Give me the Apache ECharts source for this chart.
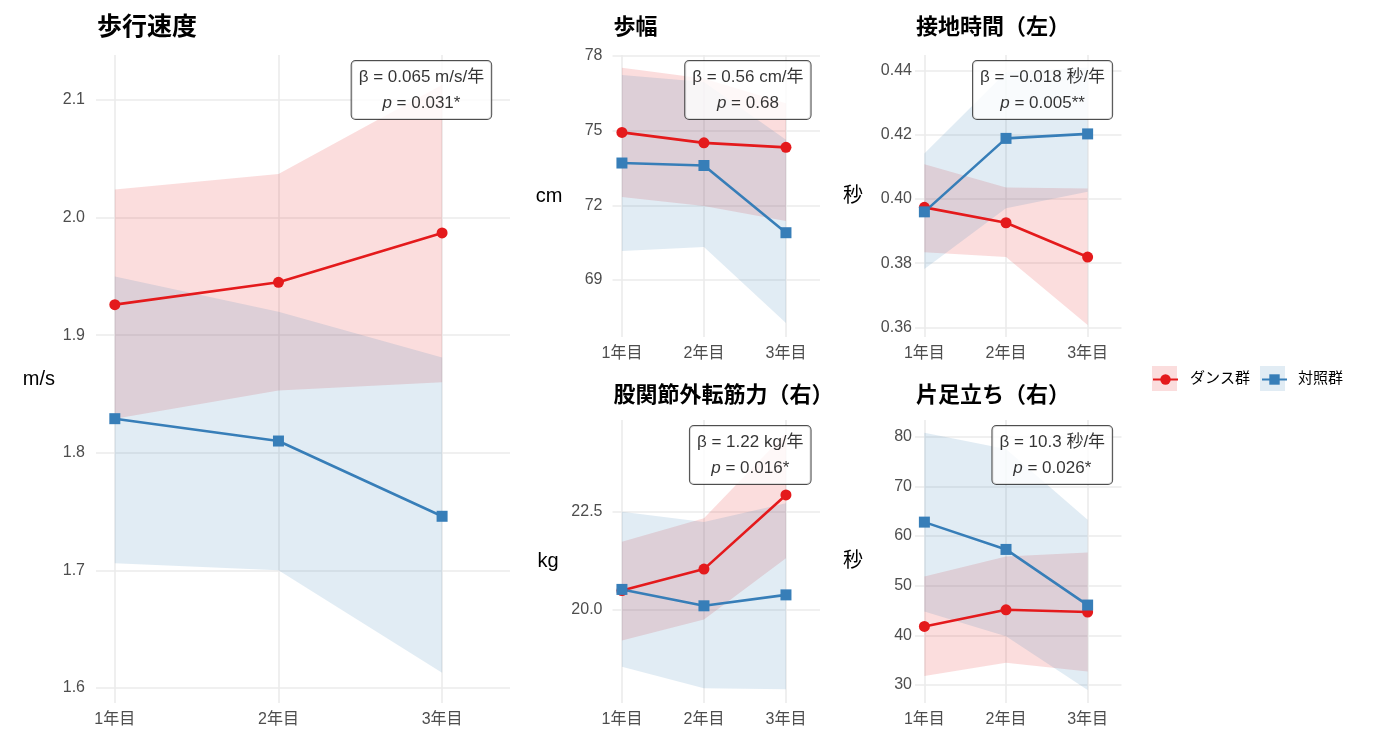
<!DOCTYPE html>
<html>
<head>
<meta charset="utf-8">
<script src="https://cdn.jsdelivr.net/npm/echarts@6/dist/echarts.min.js"></script>
<style>
html,body{margin:0;padding:0;background:#fff;}
#c{width:1382px;height:749px;}
</style>
</head>
<body>
<div id="c"></div>
<script>
// ---------------- DATA ----------------
const categories = ['1年目', '2年目', '3年目'];
const groups = ['ダンス群', '対照群'];
const titles = ['歩行速度', '歩幅', '接地時間（左）', '股関節外転筋力（右）', '片足立ち（右）'];
const units = ['m/s', 'cm', '秒', 'kg', '秒'];

// 歩行速度
const speedDance   = [1.926, 1.945, 1.987];
const speedDanceLo = [1.829, 1.853, 1.860];
const speedDanceHi = [2.024, 2.037, 2.113];
const speedCtrl    = [1.829, 1.810, 1.746];
const speedCtrlLo  = [1.706, 1.700, 1.613];
const speedCtrlHi  = [1.950, 1.920, 1.881];
const speedTicks   = [1.6, 1.7, 1.8, 1.9, 2.0, 2.1];

// 歩幅
const strideDance   = [74.93, 74.51, 74.33];
const strideDanceLo = [72.33, 71.97, 71.37];
const strideDanceHi = [77.53, 77.10, 76.10];
const strideCtrl    = [73.70, 73.60, 70.90];
const strideCtrlLo  = [70.17, 70.33, 67.27];
const strideCtrlHi  = [77.24, 76.96, 74.63];
const strideTicks   = [69, 72, 75, 78];

// 接地時間（左）
const contactDance   = [0.3974, 0.3926, 0.3819];
const contactDanceLo = [0.3834, 0.3819, 0.3607];
const contactDanceHi = [0.4108, 0.4036, 0.4033];
const contactCtrl    = [0.3960, 0.4189, 0.4203];
const contactCtrlLo  = [0.3782, 0.3971, 0.4023];
const contactCtrlHi  = [0.4142, 0.4395, 0.4410];
const contactTicks   = [0.36, 0.38, 0.40, 0.42, 0.44];

// 股関節外転筋力（右）
const hipDance   = [20.48, 21.03, 22.93];
const hipDanceLo = [19.20, 19.74, 21.31];
const hipDanceHi = [21.73, 22.33, 24.52];
const hipCtrl    = [20.51, 20.09, 20.37];
const hipCtrlLo  = [18.53, 17.98, 17.95];
const hipCtrlHi  = [22.50, 22.24, 22.72];
const hipTicks   = [20.0, 22.5];

// 片足立ち（右）
const balanceDance   = [41.8, 45.15, 44.7];
const balanceDanceLo = [31.8, 34.5, 32.7];
const balanceDanceHi = [51.85, 55.9, 56.7];
const balanceCtrl    = [62.8, 57.3, 46.1];
const balanceCtrlLo  = [44.8, 39.8, 29.0];
const balanceCtrlHi  = [80.8, 77.5, 63.3];
const balanceTicks   = [30, 40, 50, 60, 70, 80];

// annotation texts
const betaLabels = ['β = 0.065 m/s/年', 'β = 0.56 cm/年', 'β = −0.018 秒/年', 'β = 1.22 kg/年', 'β = 10.3 秒/年'];
const pLabels    = ['0.031*', '0.68', '0.005**', '0.016*', '0.026*'];

// ---------------- ASSEMBLY ----------------
const panelData = [
  {dance: speedDance, danceLo: speedDanceLo, danceHi: speedDanceHi, ctrl: speedCtrl, ctrlLo: speedCtrlLo, ctrlHi: speedCtrlHi, ticks: speedTicks, dec: 1},
  {dance: strideDance, danceLo: strideDanceLo, danceHi: strideDanceHi, ctrl: strideCtrl, ctrlLo: strideCtrlLo, ctrlHi: strideCtrlHi, ticks: strideTicks, dec: 0},
  {dance: contactDance, danceLo: contactDanceLo, danceHi: contactDanceHi, ctrl: contactCtrl, ctrlLo: contactCtrlLo, ctrlHi: contactCtrlHi, ticks: contactTicks, dec: 2},
  {dance: hipDance, danceLo: hipDanceLo, danceHi: hipDanceHi, ctrl: hipCtrl, ctrlLo: hipCtrlLo, ctrlHi: hipCtrlHi, ticks: hipTicks, dec: 1},
  {dance: balanceDance, danceLo: balanceDanceLo, danceHi: balanceDanceHi, ctrl: balanceCtrl, ctrlLo: balanceCtrlLo, ctrlHi: balanceCtrlHi, ticks: balanceTicks, dec: 0}
];

// layout (positions / scale limits)
const layout = [
  {left: 96,    top: 55,  width: 414,   height: 648, yMin: 1.5872, yMax: 2.1383, titleSize: 25, titleTop: 16,  nameGap: 41, labelMargin: 11},
  {left: 612.5, top: 55,  width: 207.5, height: 282, yMin: 66.71,  yMax: 78.04,  titleSize: 22, titleTop: 17,  nameGap: 50, labelMargin: 10},
  {left: 915,   top: 55,  width: 206.5, height: 282, yMin: 0.35698, yMax: 0.4449, titleSize: 22, titleTop: 17, nameGap: 52, labelMargin: 3},
  {left: 612.5, top: 420, width: 207.5, height: 283, yMin: 17.60,  yMax: 24.85,  titleSize: 22, titleTop: 385, nameGap: 54, labelMargin: 10},
  {left: 915,   top: 420, width: 206.5, height: 283, yMin: 26.38,  yMax: 83.36,  titleSize: 22, titleTop: 385, nameGap: 52, labelMargin: 3}
];
const X_MIN = 0.885, X_MAX = 3.415, ANNOT_X = 3.3;

const FONT = "'Liberation Sans', 'Noto Sans CJK JP', sans-serif";
const RED = '#E41A1C', BLUE = '#377EB8';
const RED_FILL = 'rgba(228,26,28,0.15)', BLUE_FILL = 'rgba(55,126,184,0.15)';
const GRID_COL = '#EBEBEB';
const xPos = categories.map((c, i) => i + 1);

function xy(vals) { return vals.map((v, i) => [xPos[i], v]); }

function bandSeries(i, lo, hi, fill, key) {
  return {
    type: 'custom', name: 'band-' + key + i, xAxisIndex: i, yAxisIndex: i,
    silent: true, z: 1, clip: true,
    data: xy(lo),
    renderItem: function (params, api) {
      if (params.dataIndex !== 0) return null;
      const pts = [];
      hi.forEach((v, k) => pts.push(api.coord([xPos[k], v])));
      for (let k = lo.length - 1; k >= 0; k--) pts.push(api.coord([xPos[k], lo[k]]));
      return {type: 'polygon', shape: {points: pts}, style: {fill: fill, stroke: null}};
    }
  };
}

const grid = [], xAxis = [], yAxis = [], series = [], title = [];

layout.forEach((L, i) => {
  const D = panelData[i];
  grid.push({left: L.left, top: L.top, width: L.width, height: L.height, containLabel: false});
  xAxis.push({
    type: 'value', gridIndex: i, min: X_MIN, max: X_MAX,
    axisLine: {show: false},
    axisTick: {show: false, customValues: xPos},
    axisLabel: {customValues: xPos, formatter: v => categories[Math.round(v) - 1], margin: 9, fontSize: 16, color: '#4d4d4d', fontFamily: FONT},
    splitLine: {show: true, lineStyle: {color: GRID_COL, width: 1.6}}
  });
  yAxis.push({
    type: 'value', gridIndex: i, min: L.yMin, max: L.yMax,
    name: units[i], nameLocation: 'middle', nameRotate: 0, nameGap: L.nameGap,
    nameTextStyle: {fontSize: 20, color: '#000', fontFamily: FONT},
    axisLine: {show: false},
    axisTick: {show: false, customValues: D.ticks},
    axisLabel: {customValues: D.ticks, formatter: v => Number(v).toFixed(D.dec), margin: L.labelMargin, fontSize: 16, color: '#4d4d4d', fontFamily: FONT},
    splitLine: {show: true, lineStyle: {color: GRID_COL, width: 1.6}}
  });
  title.push({
    text: titles[i], left: L.left + 1, top: L.titleTop, padding: 0,
    textStyle: {fontSize: L.titleSize, fontWeight: 'bold', color: '#000', fontFamily: FONT}
  });

  series.push(bandSeries(i, D.danceLo, D.danceHi, RED_FILL, 'r'));
  series.push(bandSeries(i, D.ctrlLo, D.ctrlHi, BLUE_FILL, 'b'));
  series.push({
    type: 'line', name: groups[0], xAxisIndex: i, yAxisIndex: i, data: xy(D.dance),
    symbol: 'circle', symbolSize: 11, showSymbol: true,
    lineStyle: {color: RED, width: 2.6}, itemStyle: {color: RED}, z: 3
  });
  series.push({
    type: 'line', name: groups[1], xAxisIndex: i, yAxisIndex: i, data: xy(D.ctrl),
    symbol: 'rect', symbolSize: 11, showSymbol: true,
    lineStyle: {color: BLUE, width: 2.6}, itemStyle: {color: BLUE}, z: 3
  });
  series.push({
    type: 'scatter', name: 'annot' + i, xAxisIndex: i, yAxisIndex: i,
    data: [[ANNOT_X, L.yMax]], symbolSize: 0, silent: true, clip: false, z: 10,
    label: {
      show: true, position: [0, 6], align: 'right', verticalAlign: 'top',
      backgroundColor: '#fff', borderColor: '#222', borderWidth: 1, borderRadius: 4,
      padding: [3, 7],
      formatter: '{t|' + betaLabels[i] + '}\n{i|p}{t| = ' + pLabels[i] + '}',
      rich: {
        t: {fontFamily: FONT, fontSize: 17, color: '#000', lineHeight: 26, align: 'center'},
        i: {fontFamily: FONT, fontSize: 17, fontStyle: 'italic', color: '#000', lineHeight: 26, align: 'center'}
      }
    }
  });
});

const option = {
  animation: false,
  backgroundColor: '#fff',
  title: title,
  grid: grid,
  xAxis: xAxis,
  yAxis: yAxis,
  legend: [
    {
      left: 1152, top: 366, padding: 0, orient: 'horizontal', selectedMode: false,
      itemWidth: 25, itemHeight: 25, itemGap: 10, icon: 'rect',
      data: [
        {name: groups[0], icon: 'rect', itemStyle: {color: RED_FILL, borderWidth: 0}},
        {name: groups[1], icon: 'rect', itemStyle: {color: BLUE_FILL, borderWidth: 0}}
      ],
      textStyle: {fontSize: 15, color: '#000', fontFamily: FONT, padding: [0, 0, 0, 8]}
    },
    {
      left: 1152, top: 372, padding: 0, orient: 'horizontal', selectedMode: false,
      itemWidth: 25, itemHeight: 13, itemGap: 10,
      data: [groups[0], groups[1]],
      textStyle: {fontSize: 15, color: 'rgba(0,0,0,0)', fontFamily: FONT, padding: [0, 0, 0, 8]}
    }
  ],
  series: series
};

const chart = echarts.init(document.getElementById('c'), null, {renderer: 'canvas'});
chart.setOption(option);
</script>
</body>
</html>
